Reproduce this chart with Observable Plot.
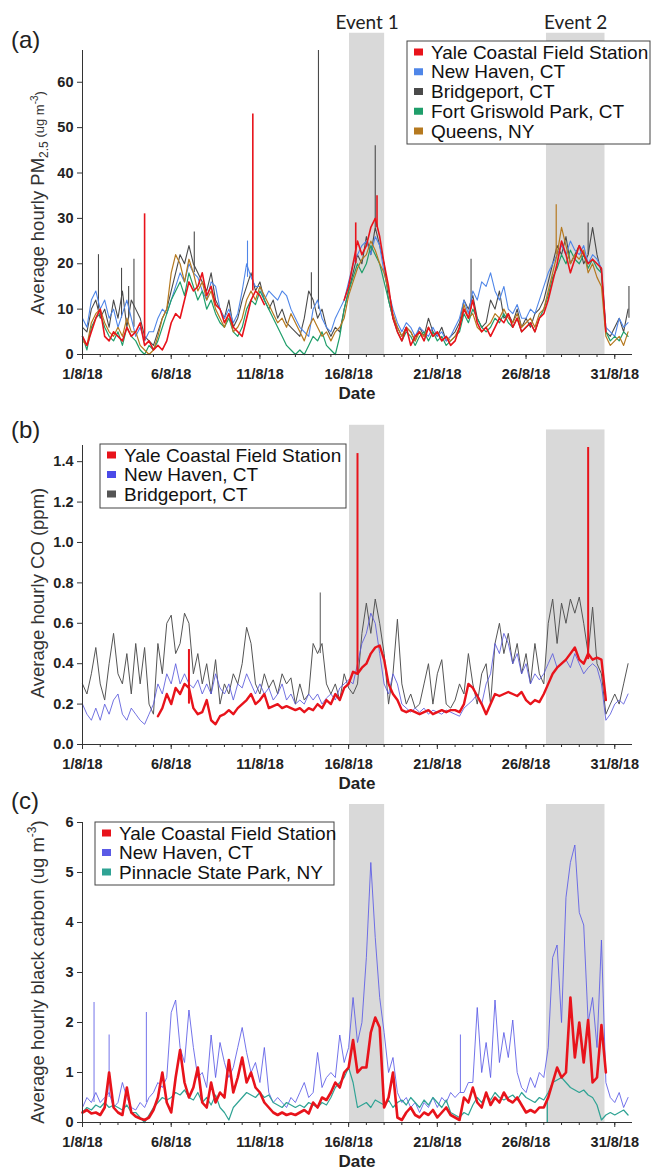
<!DOCTYPE html>
<html><head><meta charset="utf-8">
<script src="https://cdn.jsdelivr.net/npm/d3@7"></script>
<script src="https://cdn.jsdelivr.net/npm/@observablehq/plot@0.6"></script>
<style>
body{margin:0;background:#fff;}
#wrap{width:652px;}
#wrap svg{display:block;overflow:visible;}
</style></head><body><div id="wrap"></div>
<script>
// ---------- shared time setup ----------
const START = Date.UTC(2018, 7, 1);
const DAY = 864e5;
const STEP_H = 6; // values are sampled every 6 hours from 1 Aug 2018 00:00

// ---------- events ----------
const eventNames = ["Event 1", "Event 2"];
const eventStart = [15.05, 26.15];  // days after 1 Aug
const eventEnd = [17.03, 29.45];
const bandTopA = [70.8, 70.8];
const bandTopB = [1.58, 1.557];
const bandTopC = [6.36, 6.36];

// ---------- panel (a) PM2.5 ----------
const pmNames = ["Yale Coastal Field Station", "New Haven, CT", "Bridgeport, CT", "Fort Griswold Park, CT", "Queens, NY"];
const pmColors = ["#e8131b", "#4f86e8", "#4a4a4a", "#1f9e6a", "#b5791f"];
const pmTicks = [0, 10, 20, 30, 40, 50, 60];
const pmYale = [4,2,5,8, 10,4,3,5, 4,3,6,4, 5,7,2,3, 1,2,1,3, 7,9,8,12, 16,14,15,18, 13,15,11,10, 7,9,6,5, 4,8,12,14, 13,11,null,null, null,null,null,null, null,null,null,null, null,null,null,null, null,null,null,12, 15,20,25,22, 24,28,30,26, 20,15,8,5, 3,6,2,4, 5,3,6,4, 5,3,4,2, 3,6,10,8, 12,7,5,6, 4,6,8,7, 9,6,8,5, 6,7,5,8, 9,12,16,20, 25,22,18,21, 24,22,20,21, 20,19,5,null, null,null,null,null];
const pmNewHaven = [8,6,12,14, 10,12,8,10, 6,9,12,8, 4,6,3,5, 5,8,10,9, 12,15,18,16, 20,18,17,14, 12,16,15,10, 8,10,7,9, 14,20,17,15, 15,12,14,13, 12,14,13,10, 8,6,5,4, 10,12,8,6, 5,8,10,12, 16,20,22,24, 25,22,26,24, 18,14,10,7, 5,7,6,4, 6,5,4,6, 4,5,3,4, 6,8,12,9, 14,12,16,15, 18,14,12,15, 10,9,11,8, 8,10,9,12, 15,18,20,22, 24,22,25,23, 22,24,20,22, 21,19,6,5, 4,8,6,7];
const pmBridgeport = [6,5,10,12, 8,10,6,12, 8,14,6,12, 10,8,4,3, 2,5,8,10, 14,18,22,20, 24,20,18,16, 14,18,12,10, 8,12,6,8, 12,15,18,14, 16,12,10,12, 8,10,7,6, 5,4,8,14, 12,8,10,6, 4,6,5,10, 14,18,22,20, 26,22,28,24, 20,12,8,6, 4,6,5,3, 6,4,8,5, 4,6,3,4, 5,7,12,10, 13,8,6,7, 12,10,14,8, 9,7,10,6, 8,6,9,10, 12,16,20,24, 22,26,20,22, 24,20,22,28, 22,18,5,4, 6,8,5,10];
const pmGriswold = [4,1,6,8, 9,6,4,3, 5,2,6,4, 3,1,0,2, 1,3,6,9, 12,14,16,13, 18,15,12,14, 10,12,9,7, 6,8,5,4, 6,10,12,11, 14,12,10,8, 6,4,2,1, 0,1,0,2, 4,3,5,2, 1,0,4,10, 14,17,20,18, 20,24,22,20, 16,12,8,5, 3,5,4,2, 4,5,3,5, 3,4,2,3, 4,5,9,7, 10,8,6,5, 6,8,7,9, 7,6,8,5, 6,7,5,8, 10,13,17,19, 22,20,23,21, 20,22,19,21, 19,18,5,3, 4,3,5,4];
const pmQueens = [3,2,7,9, 10,7,5,4, 6,4,8,5, 5,2,1,0, 1,4,8,10, 18,22,20,16, 21,18,14,16, 12,14,10,8, 6,9,5,6, 8,12,14,12, 15,13,11,9, 7,8,6,9, 7,5,3,6, 8,6,4,5, 3,5,6,8, 13,16,19,21, 22,25,23,20, 18,14,9,6, 4,6,5,3, 5,4,6,4, 5,3,4,3, 4,6,11,8, 9,6,5,6, 7,9,8,10, 8,7,9,6, 7,8,6,9, 10,14,18,22, 28,24,20,22, 21,23,18,20, 17,15,4,2, 3,4,2,5];
// short hourly spikes: [day, value before, peak]
const pmYaleSpikes = [[3.5,3,31],[9.6,14,53],[15.4,20,29],[16.6,28,35]];
const pmNewHavenSpikes = [[9.3,17,25]];
const pmBridgeportSpikes = [[0.9,10,22],[2.2,8,19],[2.6,8,15],[2.9,6,21],[6.3,18,27],[12.9,10,18],[13.3,10,67],[16.5,28,46],[21.9,10,21],[28.5,22,29],[30.8,8,15]];
const pmQueensSpikes = [[26.7,22,33]];

// ---------- panel (b) CO ----------
const coNames = ["Yale Coastal Field Station", "New Haven, CT", "Bridgeport, CT"];
const coColors = ["#e8131b", "#5b5bdc", "#555555"];
const coTicks = [0, 0.2, 0.4, 0.6, 0.8, 1.0, 1.2, 1.4];
const coYale = [null,null,null,null, null,null,null,null, null,null,null,null, null,null,null,null, null,0.14,0.18,0.25, 0.2,0.28,0.25,0.3, 0.28,0.18,0.15,0.16, 0.22,0.12,0.1,0.14, 0.15,0.17,0.15,0.18, 0.2,0.22,0.25,0.2, 0.22,0.25,0.18,0.19, 0.2,0.18,0.19,0.18, 0.17,0.18,0.16,0.18, 0.17,0.2,0.18,0.22, 0.2,0.25,0.22,0.28, 0.3,0.36,0.35,0.38, 0.4,0.45,0.48,0.49, 0.42,0.3,0.25,0.22, 0.17,0.16,0.17,0.16, 0.15,0.16,0.17,0.15, 0.16,0.17,0.16,0.17, 0.17,0.16,0.2,0.3, 0.28,0.24,0.2,0.15, 0.2,0.25,0.24,0.25, 0.26,0.25,0.24,0.26, 0.22,0.2,0.22,0.21, 0.25,0.3,0.35,0.38, 0.4,0.42,0.45,0.48, 0.42,0.4,0.45,0.42, 0.43,0.42,0.22,null, null,null,null,null];
const coNewHaven = [0.2,0.15,0.12,0.18, 0.12,0.2,0.15,0.22, 0.25,0.15,0.12,0.18, 0.15,0.12,0.1,0.15, 0.2,0.3,0.25,0.35, 0.3,0.4,0.3,0.35, 0.3,0.28,0.32,0.25, 0.3,0.25,0.35,0.28, 0.25,0.3,0.22,0.3, 0.28,0.35,0.3,0.25, 0.3,0.25,0.28,0.22, 0.25,0.3,0.22,0.25, 0.2,0.22,0.2,0.25, 0.22,0.25,0.2,0.23, 0.25,0.22,0.28,0.3, 0.32,0.3,0.4,0.5, 0.55,0.65,0.6,0.45, 0.3,0.25,0.35,0.3, 0.2,0.18,0.16,0.18, 0.16,0.18,0.15,0.17, 0.16,0.15,0.17,0.16, 0.15,0.14,0.18,0.2, 0.22,0.25,0.2,0.3, 0.35,0.5,0.45,0.55, 0.5,0.4,0.45,0.35, 0.4,0.3,0.35,0.32, 0.35,0.4,0.45,0.38, 0.4,0.42,0.38,0.45, 0.4,0.35,0.38,0.4, 0.38,0.3,0.12,0.15, 0.2,0.22,0.2,0.25];
const coBridgeport = [0.3,0.25,0.35,0.48, 0.3,0.22,0.4,0.55, 0.35,0.3,0.45,0.25, 0.5,0.3,0.48,0.2, 0.15,0.5,0.35,0.6, 0.64,0.45,0.5,0.65, 0.6,0.35,0.45,0.3, 0.4,0.25,0.42,0.2, 0.3,0.25,0.35,0.3, 0.4,0.58,0.5,0.3, 0.25,0.35,0.28,0.32, 0.25,0.35,0.3,0.33, 0.2,0.3,0.22,0.25, 0.5,0.45,0.5,0.3, 0.25,0.3,0.22,0.35, 0.28,0.25,0.3,0.55, 0.7,0.55,0.72,0.6, 0.45,0.2,0.35,0.62, 0.3,0.2,0.25,0.18, 0.2,0.3,0.4,0.2, 0.35,0.42,0.2,0.18, 0.22,0.3,0.25,0.45, 0.3,0.2,0.35,0.4, 0.2,0.5,0.6,0.45, 0.55,0.4,0.5,0.35, 0.45,0.3,0.5,0.35, 0.3,0.6,0.72,0.5, 0.7,0.6,0.72,0.65, 0.73,0.6,0.45,0.68, 0.4,0.35,0.15,0.2, 0.25,0.2,0.3,0.4];
const coYaleSpikes = [[6.0,0.2,0.47],[15.5,0.35,1.44],[28.5,0.42,1.47]];
const coBridgeportSpikes = [[13.4,0.45,0.75]];

// ---------- panel (c) black carbon ----------
const bcNames = ["Yale Coastal Field Station", "New Haven, CT", "Pinnacle State Park, NY"];
const bcColors = ["#e8131b", "#5a5ae6", "#2fa394"];
const bcTicks = [0, 1, 2, 3, 4, 5, 6];
const bcYale = [0.2,0.25,0.18,0.2, 0.15,0.3,1.0,0.3, 0.2,0.15,0.7,0.2, 0.12,0.08,0.05,0.1, 0.25,0.5,1.0,0.4, 0.2,0.9,1.45,0.8, 0.5,0.7,1.1,0.4, 0.3,0.8,0.4,0.6, 0.5,1.25,0.6,0.9, 1.3,0.8,1.0,0.7, 0.6,0.4,0.3,0.2, 0.15,0.2,0.15,0.18, 0.15,0.2,0.25,0.18, 0.4,0.3,0.5,0.45, 0.6,0.8,0.7,1.0, 1.1,1.65,1.0,1.1, 1.1,1.8,2.1,1.9, 0.3,0.5,1.0,0.1, 0.05,0.2,0.3,0.15, 0.1,0.2,0.15,0.25, 0.1,0.2,0.3,0.15, 0.1,0.05,0.5,0.4, 0.7,0.4,0.3,0.6, 0.35,0.5,0.4,0.6, 0.45,0.4,0.5,0.35, 0.2,0.25,0.2,0.3, 0.3,0.5,0.8,1.1, 0.9,1.0,2.5,1.3, 2.0,1.2,2.05,0.8, 0.9,1.95,1.0,null, null,null,null,null];
const bcNewHaven = [0.3,0.5,0.4,0.6, 0.4,0.5,0.6,0.3, 0.4,0.8,0.5,0.3, 0.25,0.4,0.3,0.5, 0.6,0.8,0.7,0.9, 2.2,2.45,1.5,1.2, 2.25,1.5,0.9,1.0, 0.7,1.75,0.9,1.6, 1.2,0.9,1.1,1.5, 1.9,1.4,1.0,1.2, 0.8,1.5,0.6,0.4, 0.5,0.4,0.3,0.5, 0.4,0.6,0.8,0.5, 0.6,1.4,0.7,0.9, 1.0,0.9,1.75,1.2, 1.5,2.5,1.6,2.0, 3.3,5.2,3.7,2.5, 1.8,1.0,1.3,0.6, 0.4,0.5,0.3,0.4, 0.2,0.4,0.3,0.5, 0.3,0.5,0.4,0.6, 0.5,0.6,0.6,0.8, 0.8,2.3,1.0,1.6, 0.9,2.45,1.2,1.8, 1.3,2.05,1.0,0.7, 0.6,0.9,0.7,1.0, 0.9,1.5,3.3,3.55, 2.0,4.5,5.2,5.55, 4.2,3.95,2.0,2.5, 1.5,3.65,0.8,0.5, 0.4,0.6,0.3,0.5];
const bcPinnacle = [0.2,0.3,0.25,0.35, 0.3,0.4,0.3,0.35, 0.3,0.25,0.35,0.2, 0.2,0.1,0.0,0.15, 0.3,0.4,0.5,0.45, 0.5,0.6,0.55,0.65, 0.5,0.45,0.6,0.4, 0.5,0.35,0.55,0.3, 0.2,0.05,0.3,0.4, 0.5,0.6,0.55,0.5, 0.6,0.5,0.55,0.4, 0.35,0.3,0.4,0.35, 0.3,0.35,0.3,0.4, 0.35,0.3,0.4,0.35, 0.5,0.7,0.8,0.9, 1.1,0.8,0.3,0.35, 0.4,0.3,0.45,0.4, 0.35,0.45,0.3,0.4, 0.45,0.35,0.5,0.4, 0.3,0.45,0.35,0.5, 0.4,0.3,0.45,0.2, 0.15,0.1,0.2,0.15, 0.35,0.5,0.4,0.55, 0.45,0.6,0.5,0.45, 0.5,0.55,0.45,0.6, 0.5,0.45,0.4,0.5, 0.45,0.6,0.8,0.85, 0.9,0.8,0.7,0.65, 0.6,0.65,0.55,0.5, 0.35,0.05,0.15,0.2, 0.15,0.2,0.25,0.15];
const bcNewHavenSpikes = [[0.65,0.4,2.4],[1.5,0.5,1.75],[3.6,0.4,2.2],[21.3,0.6,1.75]];
const bcPinnacleSpikes = [[26.2,0.45,0]];

// ---------- helpers ----------
const toRows = arr => arr.map((v, i) => ({t: new Date(START + i * STEP_H * 3600e3), v}));
const spikeRows = arr => arr.map(([d, b, p]) => ({t: new Date(START + d * DAY), b, p}));
const bandRows = tops => eventNames.map((n, i) => ({n, s: new Date(START + eventStart[i] * DAY), e: new Date(START + eventEnd[i] * DAY), m: new Date(START + (eventStart[i] + eventEnd[i]) / 2 * DAY), top: tops[i]}));
const majorDates = d3.range(0, 31, 5).map(d => new Date(START + d * DAY));
const dailyDates = d3.range(0, 31).map(d => new Date(START + d * DAY));
const fmtDate = d3.utcFormat("%-d/%-m/%y");
const FONT = "'Liberation Sans', Arial, Helvetica, sans-serif";

function makePanel(cfg) {
  const bands = bandRows(cfg.bandTops);
  const marks = [Plot.rect(bands, {x1: "s", x2: "e", y1: 0, y2: "top", fill: "#d9d9d9"})];
  if (cfg.eventLabels) {
    marks.push(Plot.text(bands, {x: "m", y: cfg.eventLabelY, text: "n", fontFamily: "Lato, 'Open Sans', sans-serif", fontSize: 19, fontWeight: "normal", fill: "#222"}));
  }
  for (const s of cfg.series) {
    marks.push(Plot.line(toRows(s.values), {x: "t", y: "v", stroke: s.color, strokeWidth: s.width, strokeOpacity: s.opacity || 1}));
    if (s.spikes) marks.push(Plot.ruleX(spikeRows(s.spikes), {x: "t", y1: "b", y2: "p", stroke: s.color, strokeWidth: s.spikeWidth || s.width, strokeOpacity: s.opacity || 1}));
  }
  marks.push(
    Plot.ruleY([0], {stroke: "#333", strokeWidth: 1}),
    Plot.ruleX([new Date(START)], {stroke: "#333", strokeWidth: 1}),
    Plot.axisX({ticks: majorDates, tickFormat: fmtDate, tickSize: 5, tickPadding: 9, label: null, fontWeight: "bold", fontSize: 14.5, stroke: "#333"}),
    Plot.axisX({ticks: dailyDates, tickFormat: () => "", tickSize: 3, label: null, stroke: "#333"}),
    Plot.axisY({ticks: cfg.yTicks, tickFormat: cfg.yFormat, tickSize: 5, tickPadding: 4, label: null, fontWeight: "bold", fontSize: 14.5, stroke: "#333"})
  );
  const svg = Plot.plot({
    width: 652, height: cfg.height,
    marginLeft: 82, marginRight: 20, marginTop: cfg.marginTop, marginBottom: cfg.marginBottom,
    x: {type: "utc", domain: [new Date(START), new Date(START + 31 * DAY)]},
    y: {domain: cfg.yDomain},
    style: {fontFamily: FONT, color: "#222", background: "white", overflow: "visible"},
    marks
  });
  const s = d3.select(svg);
  // panel letter
  s.append("text").attr("x", 11).attr("y", cfg.letterY).attr("text-anchor", "start").attr("font-size", 24).attr("font-family", FONT).attr("fill", "#222").text(cfg.letter);
  // x title
  s.append("text").attr("x", 357).attr("y", cfg.height - cfg.marginBottom + 45).attr("text-anchor", "middle").attr("font-size", 17).attr("font-weight", "bold").attr("font-family", FONT).attr("fill", "#222").text("Date");
  // y title
  const t = s.append("text").attr("transform", `translate(44,${cfg.titleY}) rotate(-90)`).attr("text-anchor", "middle").attr("font-size", 18.5).attr("font-family", FONT).attr("fill", "#333");
  cfg.title(t);
  // legend
  const L = cfg.legend;
  s.append("rect").attr("x", L.x0).attr("y", L.y0).attr("width", L.x1 - L.x0).attr("height", L.y1 - L.y0).attr("fill", "white").attr("stroke", "#444").attr("stroke-width", 1);
  cfg.series.slice().sort((a, b) => a.order - b.order).forEach((sr, i) => {
    const cy = L.cy0 + i * L.dy;
    s.append("rect").attr("x", L.x0 + 7).attr("y", cy - 3.5).attr("width", 9).attr("height", 7).attr("fill", sr.swatch || sr.color);
    s.append("text").attr("x", L.x0 + 24).attr("y", cy + 6.5).attr("text-anchor", "start").attr("font-size", 19).attr("font-family", FONT).attr("fill", "#111").text(sr.name);
  });
  return svg;
}

const wrap = document.getElementById("wrap");

// (a)
wrap.appendChild(makePanel({
  letter: "(a)", letterY: 48, height: 400, marginTop: 50, marginBottom: 46,
  yDomain: [0, 67], yTicks: pmTicks, yFormat: d3.format("d"), bandTops: bandTopA,
  eventLabels: true, eventLabelY: 73, titleY: 203,
  title: t => {
    t.append("tspan").text("Average hourly PM");
    t.append("tspan").attr("font-size", 12).attr("dy", 4).text("2.5");
    t.append("tspan").attr("font-size", 13).attr("dy", -4).text(" (ug m");
    t.append("tspan").attr("font-size", 10).attr("dy", -6).text("-3");
    t.append("tspan").attr("font-size", 13).attr("dy", 6).text(")");
  },
  legend: {x0: 407, y0: 41, x1: 650, y1: 144, cy0: 52, dy: 19.75},
  series: [
    {name: pmNames[2], color: pmColors[2], values: pmBridgeport, spikes: pmBridgeportSpikes, width: 1.1, order: 2},
    {name: pmNames[1], color: pmColors[1], values: pmNewHaven, spikes: pmNewHavenSpikes, width: 1.1, order: 1},
    {name: pmNames[3], color: pmColors[3], values: pmGriswold, width: 1.2, order: 3},
    {name: pmNames[4], color: pmColors[4], values: pmQueens, spikes: pmQueensSpikes, width: 1.2, order: 4},
    {name: pmNames[0], color: pmColors[0], values: pmYale, spikes: pmYaleSpikes, width: 1.6, spikeWidth: 1.6, order: 0}
  ]
}));

// (b)
wrap.appendChild(makePanel({
  letter: "(b)", letterY: 38, height: 390, marginTop: 45, marginBottom: 46,
  yDomain: [0, 1.48], yTicks: coTicks, yFormat: d3.format(".1f"), bandTops: bandTopB,
  titleY: 193,
  title: t => { t.append("tspan").text("Average hourly CO (ppm)"); },
  legend: {x0: 100, y0: 44, x1: 346, y1: 108, cy0: 55, dy: 19.5},
  series: [
    {name: coNames[2], color: coColors[2], values: coBridgeport, spikes: coBridgeportSpikes, width: 1, order: 2},
    {name: coNames[1], color: coColors[1], swatch: "#4a4ae8", values: coNewHaven, width: 1, opacity: 0.85, order: 1},
    {name: coNames[0], color: coColors[0], values: coYale, spikes: coYaleSpikes, width: 2.4, spikeWidth: 2, order: 0}
  ]
}));

// (c)
wrap.appendChild(makePanel({
  letter: "(c)", letterY: 19, height: 380, marginTop: 32, marginBottom: 48,
  yDomain: [0, 6], yTicks: bcTicks, yFormat: d3.format("d"), bandTops: bandTopC,
  titleY: 182,
  title: t => {
    t.append("tspan").text("Average hourly black carbon (ug m");
    t.append("tspan").attr("font-size", 12).attr("dy", -8).text("-3");
    t.append("tspan").attr("dy", 8).text(")");
  },
  legend: {x0: 95, y0: 32, x1: 334, y1: 95, cy0: 43, dy: 19.5},
  series: [
    {name: bcNames[1], color: bcColors[1], values: bcNewHaven, spikes: bcNewHavenSpikes, width: 1, opacity: 0.85, order: 1},
    {name: bcNames[2], color: bcColors[2], values: bcPinnacle, spikes: bcPinnacleSpikes, width: 1.2, order: 2},
    {name: bcNames[0], color: bcColors[0], values: bcYale, width: 2.6, order: 0}
  ]
}));
</script></body></html>
